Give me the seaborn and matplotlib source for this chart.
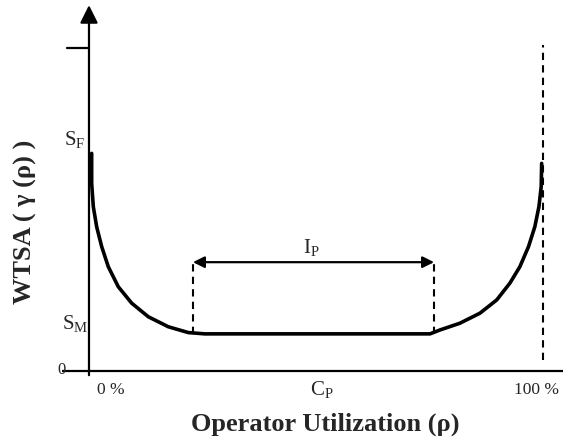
import matplotlib
matplotlib.use('Agg')
import matplotlib.pyplot as plt
import numpy as np
import pandas as pd
import seaborn as sns

sns.set_style('white')
plt.rcParams['font.family'] = ['Liberation Serif', 'DejaVu Serif']
plt.rcParams['mathtext.fontset'] = 'custom'
plt.rcParams['mathtext.rm'] = 'Liberation Serif'

#%% data (x in % utilization, y in arbitrary WTSA units)
curve_x = [0.59, 0.59, 0.95, 1.70, 2.80, 4.25, 6.45, 9.41, 13.06, 17.47, 21.87, 25.5,
           75.1, 77.3, 81.7, 86.1, 89.8, 92.7, 94.9, 96.8, 98.2, 99.1, 99.6, 99.7]
curve_y = [6.74, 5.81, 5.09, 4.46, 3.85, 3.23, 2.61, 2.10, 1.68, 1.37, 1.19, 1.15,
           1.15, 1.27, 1.48, 1.79, 2.20, 2.72, 3.23, 3.85, 4.47, 5.09, 5.71, 6.43]
interval_x = [22.9, 76.0]          # limits of I_P
interval_top = 3.37
curve_min = 1.15
full_x = 100.0
full_y = [0.34, 10.1]
y_tick = 10.0
tick_labels = ['0 %', r'$\mathrm{C}_\mathrm{P}$', '100 %']
tick_pos = [4.8, 51.3, 98.5]

df = pd.DataFrame({'x': curve_x, 'y': curve_y})

#%% plot
fig = plt.figure(figsize=(5.63, 4.43), dpi=100)
ax = fig.add_axes([0, 0, 1, 1])
ax.set_xlim(-19.6, 104.4)
ax.set_ylim(-2.23, 11.49)
ax.axis('off')

# axes drawn by hand (arrow on y)
ax.plot([-5.9, 104.4], [0, 0], color='black', lw=1.6, solid_capstyle='butt')
ax.annotate('', xy=(0, 11.33), xytext=(0, -0.13),
            arrowprops=dict(arrowstyle='-|>', lw=1.6, color='black', mutation_scale=27, shrinkA=0, shrinkB=0))
ax.plot([-4.85, 0], [y_tick, y_tick], color='black', lw=1.6)

# WTSA curve
sns.lineplot(x='x', y='y', data=df, sort=False, color='black', lw=2.6, ax=ax, estimator=None)

# dashed guides
for xv in interval_x:
    sns.lineplot(x=[xv, xv], y=[curve_min, interval_top], color='black', lw=1.5,
                 linestyle=(0, (3.5, 2.5)), ax=ax, estimator=None)
sns.lineplot(x=[full_x, full_x], y=full_y, color='black', lw=1.5,
             linestyle=(0, (3.5, 2.5)), ax=ax, estimator=None)

# I_P double arrow
ax.annotate('', xy=(interval_x[0], interval_top), xytext=(interval_x[1], interval_top),
            arrowprops=dict(arrowstyle='<|-|>', lw=1.6, color='black', mutation_scale=17, shrinkA=0, shrinkB=0))
ax.text(48.9, 3.81, r'$\mathrm{I}_\mathrm{P}$', fontsize=15, ha='center', va='center')

# y labels
ax.text(-3.08, 7.15, r'$\mathrm{S}_\mathrm{F}$', fontsize=15, ha='center', va='center')
ax.text(-3.08, 1.46, r'$\mathrm{S}_\mathrm{M}$', fontsize=15, ha='center', va='center')
ax.text(-5.95, 0.03, '0', fontsize=12, ha='center', va='center')

# x tick labels
for p, lab in zip(tick_pos, tick_labels):
    fs = 15 if 'C' in lab else 12.5
    ax.text(p, -0.59, lab, fontsize=fs, ha='center', va='center')

ax.text(52.0, -1.64, 'Operator Utilization (ρ)', fontsize=19, fontweight='bold', ha='center', va='center')
ax.text(-14.1, 4.61, 'WTSA ( γ (ρ) )', fontsize=19, fontweight='bold', ha='center', va='center', rotation=90)

fig.savefig('out.png', dpi=100)
